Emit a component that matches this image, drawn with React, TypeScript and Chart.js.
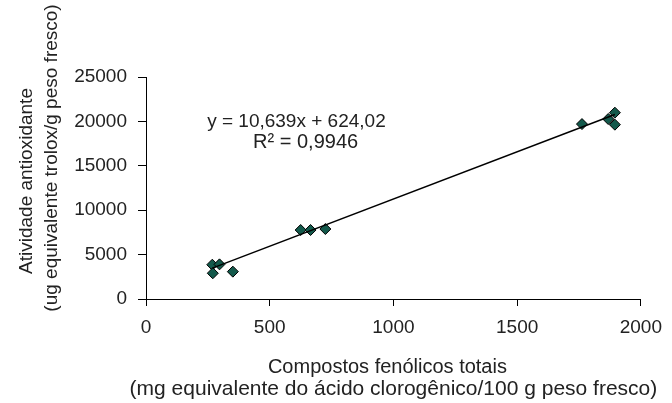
import React, { useEffect, useRef } from "react";
import { Chart, registerables } from "chart.js";

Chart.register(...registerables);

// Data
const phenolics = [268, 297, 270, 351, 625, 665, 725, 1762, 1868, 1895, 1895];
const antioxidant = [3860, 3900, 2900, 3080, 7770, 7770, 7880, 19700, 20270, 20980, 19630];

// Trendline (from the printed equation)
const slope = 10.639;
const intercept = 624.02;
const eqLine1 = "y = 10,639x + 624,02";
const eqLine2 = "R² = 0,9946";

const xTicks = [0, 500, 1000, 1500, 2000];
const yTicks = [0, 5000, 10000, 15000, 20000, 25000];

const xTitle = ["Compostos fenólicos totais", "(mg equivalente do ácido clorogênico/100 g peso fresco)"];
const yTitle = ["Atividade antioxidante", "(ug equivalente trolox/g peso fresco)"];

const FONT = '"Liberation Sans", Arial, sans-serif';
const TEXT = "#222";

const textPlugin = {
  id: "texts",
  afterDraw(chart: any) {
    const { ctx, chartArea, scales } = chart;
    const x = scales.x;
    const y = scales.y;
    ctx.save();
    ctx.fillStyle = TEXT;
    ctx.textAlign = "center";
    ctx.textBaseline = "middle";
    // equation label
    ctx.font = `19px ${FONT}`;
    ctx.fillText(eqLine1, x.getPixelForValue(608), y.getPixelForValue(19930));
    ctx.font = `20px ${FONT}`;
    ctx.fillText(eqLine2, x.getPixelForValue(645), y.getPixelForValue(17680));
    // x title
    const cx = (chartArea.left + chartArea.right) / 2;
    ctx.font = `20px ${FONT}`;
    ctx.fillText(xTitle[0], cx - 6, 367);
    ctx.font = `21px ${FONT}`;
    ctx.fillText(xTitle[1], cx, 389);
    // y title
    ctx.font = `19px ${FONT}`;
    ctx.save();
    ctx.translate(27, 181);
    ctx.rotate(-Math.PI / 2);
    ctx.fillText(yTitle[0], 0, 0);
    ctx.restore();
    ctx.save();
    ctx.translate(52, 158);
    ctx.rotate(-Math.PI / 2);
    ctx.fillText(yTitle[1], 0, 0);
    ctx.restore();
    ctx.restore();
  },
};

const plain = (v: any) => String(v);

export default function App() {
  const ref = useRef<HTMLCanvasElement>(null);
  useEffect(() => {
    document.body.style.margin = "0";
    const xMin = Math.min(...phenolics);
    const xMax = Math.max(...phenolics);
    const chart = new Chart(ref.current!, {
      type: "scatter",
      data: {
        datasets: [
          {
            label: "trend",
            type: "line",
            data: [
              { x: xMin, y: slope * xMin + intercept },
              { x: xMax, y: slope * xMax + intercept },
            ],
            borderColor: "#000",
            borderWidth: 1.5,
            pointRadius: 0,
            fill: false,
          } as any,
          {
            label: "data",
            data: phenolics.map((v, i) => ({ x: v, y: antioxidant[i] })),
            pointStyle: "rectRot",
            pointRadius: 5.5,
            backgroundColor: "#13594b",
            borderColor: "#000",
            borderWidth: 1,
          },
        ],
      },
      options: {
        responsive: false,
        animation: false,
        layout: { padding: { left: 0, right: 23, top: 77, bottom: 0 } },
        plugins: { legend: { display: false }, tooltip: { enabled: false } },
        scales: {
          x: {
            type: "linear",
            min: xTicks[0],
            max: xTicks[xTicks.length - 1],
            afterBuildTicks: (s: any) => {
              s.ticks = xTicks.map((v) => ({ value: v }));
            },
            afterFit: (s: any) => {
              s.height = 104;
            },
            grid: { drawOnChartArea: false, drawTicks: true, tickLength: 7, color: "#000" },
            border: { display: true, color: "#000", width: 1 },
            ticks: { color: TEXT, font: { family: FONT, size: 19 }, padding: 10, maxRotation: 0, callback: plain },
          },
          y: {
            type: "linear",
            min: yTicks[0],
            max: yTicks[yTicks.length - 1],
            afterBuildTicks: (s: any) => {
              s.ticks = yTicks.map((v) => ({ value: v }));
            },
            afterFit: (s: any) => {
              s.width = 146;
            },
            grid: { drawOnChartArea: false, drawTicks: true, tickLength: 8, color: "#000" },
            border: { display: true, color: "#000", width: 1 },
            ticks: { color: TEXT, font: { family: FONT, size: 19 }, padding: 11, callback: plain },
          },
        },
      },
      plugins: [textPlugin],
    });
    return () => chart.destroy();
  }, []);
  return (
    <div style={{ width: 672, height: 403 }}>
      <canvas ref={ref} width={672} height={403} />
    </div>
  );
}
